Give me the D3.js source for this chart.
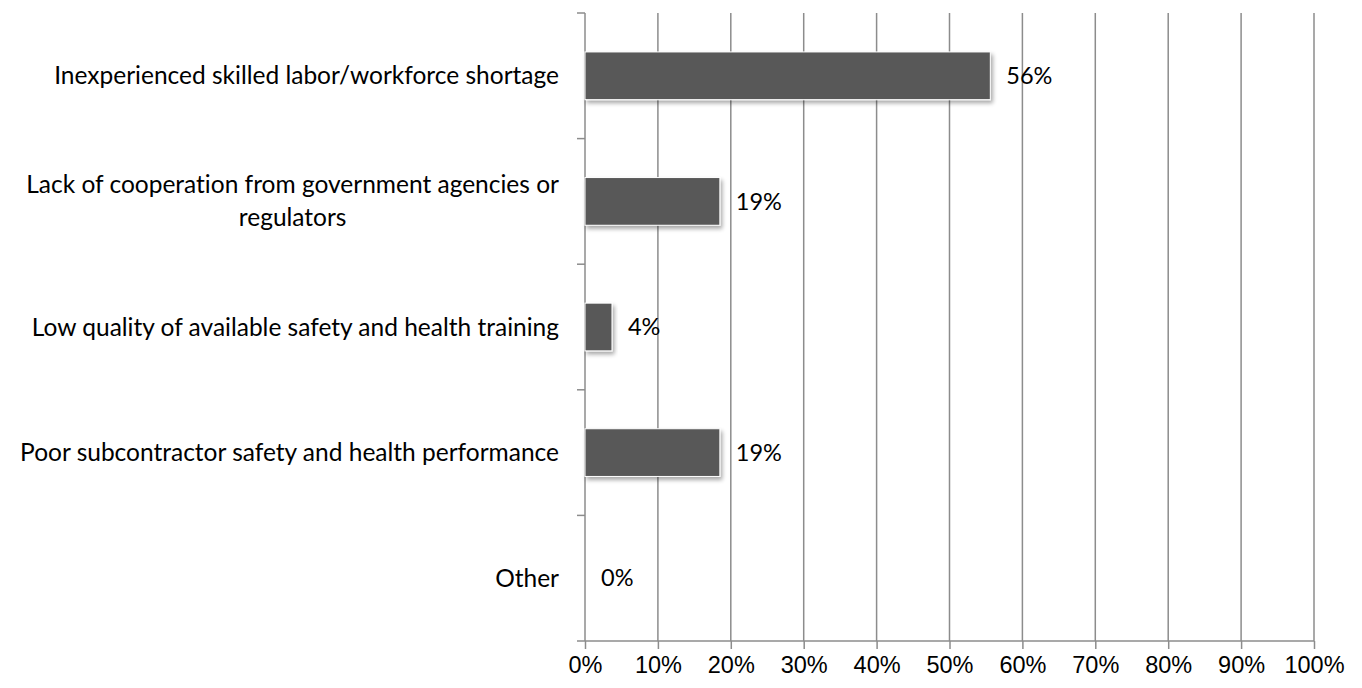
<!DOCTYPE html>
<html>
<head>
<meta charset="utf-8">
<script src="https://cdn.jsdelivr.net/npm/d3@7"></script>
<style>
  body { margin: 0; background: #fff; }
  svg { font-family: Lato, "Open Sans", sans-serif; font-variant-ligatures: none; }
  .grid line { stroke: #8c8c8c; stroke-width: 1.5; }
  .axis path, .axis line { stroke: #8c8c8c; stroke-width: 1.5; }
  .axis text { fill: #000; font-size: 23.5px; }
  .cat-label { fill: #000; font-size: 24.5px; }
  .value-label { fill: #000; font-size: 23.5px; }
</style>
</head>
<body>
<svg width="1362" height="688"></svg>
<script>
(function (d3) {
  'use strict';

  // data (27 responses -> 15, 5, 1, 5, 0)
  var categories = [
    "Inexperienced skilled labor/workforce shortage",
    "Lack of cooperation from government agencies or regulators",
    "Low quality of available safety and health training",
    "Poor subcontractor safety and health performance",
    "Other"
  ];
  var values = [55.6, 18.5, 3.7, 18.5, 0];
  var valueLabels = ["56%", "19%", "4%", "19%", "0%"];
  var xTicks = [0, 10, 20, 30, 40, 50, 60, 70, 80, 90, 100];
  // wrapped lines for the category labels
  var labelLines = [
    ["Inexperienced skilled labor/workforce shortage"],
    ["Lack of cooperation from government agencies or", "regulators"],
    ["Low quality of available safety and health training"],
    ["Poor subcontractor safety and health performance"],
    ["Other"]
  ];

  var svg = d3.select("svg");
  var margin = { top: 13, right: 48, left: 585, bottom: 47 };
  var width = +svg.attr("width");
  var height = +svg.attr("height");
  var innerWidth = width - margin.left - margin.right;
  var innerHeight = height - margin.top - margin.bottom;

  var data = categories.map(function (c, i) {
    return { cat: c, value: values[i], label: valueLabels[i], lines: labelLines[i] };
  });

  var xScale = d3.scaleLinear().domain([0, 100]).range([0, innerWidth]);
  var yScale = d3.scaleBand().domain(categories).range([0, innerHeight]).paddingInner(0.62).paddingOuter(0.31);

  // drop shadow for bars
  var defs = svg.append("defs");
  var filter = defs.append("filter").attr("id", "shadow")
    .attr("x", "-10%").attr("y", "-10%").attr("width", "130%").attr("height", "140%");
  filter.append("feGaussianBlur").attr("in", "SourceAlpha").attr("stdDeviation", 2.2);
  filter.append("feOffset").attr("dx", 2).attr("dy", 3).attr("result", "off");
  filter.append("feComponentTransfer").append("feFuncA").attr("type", "linear").attr("slope", 0.35);
  var merge = filter.append("feMerge");
  merge.append("feMergeNode");
  merge.append("feMergeNode").attr("in", "SourceGraphic");

  var g = svg.append("g")
    .attr("transform", "translate(" + margin.left + "," + margin.top + ")");

  // vertical gridlines
  g.append("g").attr("class", "grid")
    .selectAll("line").data(xTicks.slice(1)).enter().append("line")
    .attr("x1", function (d) { return xScale(d); })
    .attr("x2", function (d) { return xScale(d); })
    .attr("y1", 0).attr("y2", innerHeight);

  // x axis
  var xAxis = d3.axisBottom(xScale).tickValues(xTicks)
    .tickFormat(function (d) { return d + "%"; })
    .tickSize(8).tickSizeOuter(0).tickPadding(7);
  var xAxisGroup = g.append("g").attr("class", "axis")
    .attr("transform", "translate(0," + innerHeight + ")")
    .call(xAxis);
  xAxisGroup.select(".domain").attr("d", "M-8,0H" + innerWidth);

  // y axis: line with ticks at band boundaries
  var yBounds = d3.range(categories.length + 1).map(function (i) { return i * innerHeight / categories.length; });
  var yAxisGroup = g.append("g").attr("class", "axis");
  yAxisGroup.append("line").attr("x1", 0).attr("x2", 0).attr("y1", 0).attr("y2", innerHeight);
  yAxisGroup.selectAll(".ytick").data(yBounds.slice(0, -1)).enter().append("line")
    .attr("class", "ytick")
    .attr("x1", -8).attr("x2", 0)
    .attr("y1", function (d) { return d; }).attr("y2", function (d) { return d; });

  // bars
  g.selectAll("rect.bar").data(data.filter(function (d) { return d.value > 0; })).enter().append("rect")
    .attr("class", "bar")
    .attr("x", 0)
    .attr("y", function (d) { return yScale(d.cat); })
    .attr("width", function (d) { return xScale(d.value); })
    .attr("height", yScale.bandwidth())
    .attr("fill", "#595959")
    .attr("stroke", "#ffffff")
    .attr("stroke-width", 1)
    .attr("filter", "url(#shadow)");

  // value labels
  g.selectAll("text.value-label").data(data).enter().append("text")
    .attr("class", "value-label")
    .attr("x", function (d) { return xScale(d.value) + 16; })
    .attr("y", function (d) { return yScale(d.cat) + yScale.bandwidth() / 2; })
    .attr("dy", "0.35em")
    .text(function (d) { return d.label; });

  // category labels (multi-line centered on widest line, right edge at -26)
  var labelGroups = g.selectAll("g.cat").data(data).enter().append("g").attr("class", "cat");
  labelGroups.each(function (d) {
    var grp = d3.select(this);
    var cy = yScale(d.cat) + yScale.bandwidth() / 2;
    var lineH = 33;
    var n = d.lines.length;
    var txt = grp.append("text").attr("class", "cat-label").attr("text-anchor", "middle");
    d.lines.forEach(function (l, i) {
      txt.append("tspan").text(l)
        .attr("y", cy + (i - (n - 1) / 2) * lineH)
        .attr("dy", "0.35em");
    });
    var maxW = d3.max(txt.selectAll("tspan").nodes(), function (t) { return t.getComputedTextLength(); });
    txt.selectAll("tspan").attr("x", -26 - maxW / 2);
  });

}(d3));
</script>
</body>
</html>
